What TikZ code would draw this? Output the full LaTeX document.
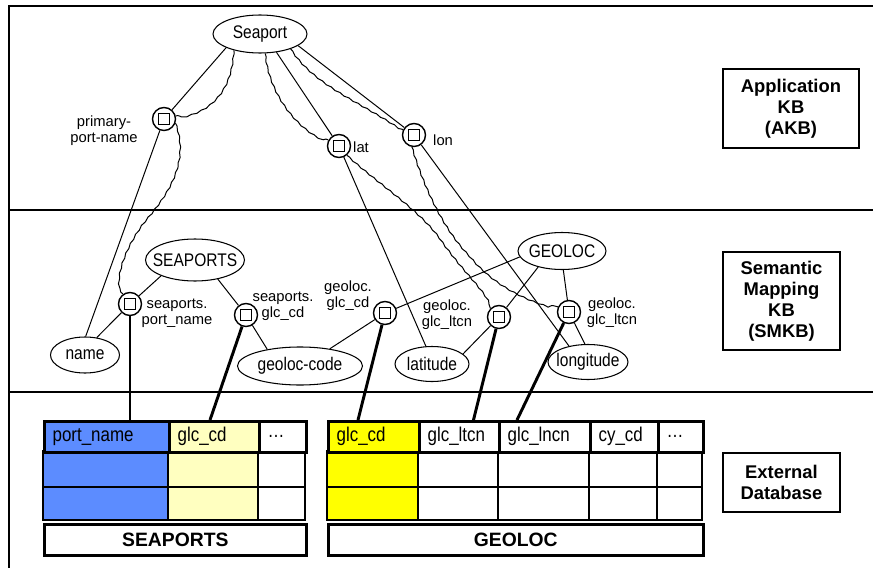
\documentclass[tikz,border=0pt]{standalone}
\usepackage{fontspec}
\setmainfont{Liberation Sans}
\newfontfamily\narrowfont[FakeStretch=0.85]{Liberation Sans}
\usetikzlibrary{shapes.geometric,decorations.pathmorphing}
\definecolor{portblue}{RGB}{92,140,255}
\definecolor{paleyel}{RGB}{255,255,192}
\definecolor{glcyel}{RGB}{255,255,0}

\begin{document}
\begin{tikzpicture}[x=0.3mm, y=-0.3mm,
	concept/.style={draw, ellipse, line width=0.9pt, inner xsep=-15pt, inner ysep=0pt, font=\narrowfont\fontsize{15.6}{16}\selectfont},
	slot/.style={draw, circle, line width=1.2pt, minimum size=6.9mm, inner sep=0pt,
		path picture={\draw[line width=1pt] ([shift={(-1.65mm,-1.65mm)}]path picture bounding box.center) rectangle ([shift={(1.65mm,1.65mm)}]path picture bounding box.center);}},
	lbl/.style={align=center, inner sep=0pt, font=\fontsize{12.6}{13.7}\selectfont},
	link/.style={line width=0.85pt},
	wavy/.style={link, decorate, decoration={snake, amplitude=0.45pt, segment length=9pt}},
	dbline/.style={line width=2.5pt},
	sect/.style={line width=1.2pt},
	hdr/.style={draw, line width=2.2pt, anchor=north west, minimum height=9.3mm, inner xsep=2.5mm, inner ysep=0pt, align=left, font=\narrowfont\fontsize{17}{18}\selectfont},
	cell/.style={draw, line width=0.9pt},
	tblname/.style={draw, line width=2.2pt, anchor=north west, minimum height=9.3mm, font=\bfseries\fontsize{16.5}{18}\selectfont},
	kbbox/.style={draw, line width=0.9pt, align=center, font=\bfseries\fontsize{15.7}{18}\selectfont}
	]
	\useasboundingbox (0,0) rectangle (873,568);

	% layers
	\draw[sect] (9,568) -- (9,6) -- (873,6);
	\draw[sect] (9,210) -- (873,210);
	\draw[sect] (9,392) -- (873,392);

	% application KB
	\node[concept, minimum width=28.2mm, minimum height=11.4mm] (seaport) at (260,34) {Seaport};
	\node[slot] (ppn) at (164,119) {};
	\node[slot] (lat) at (339,146) {};
	\node[slot] (lon) at (414,135) {};
	\node[lbl] (ppn-l) at (104,131) {primary-\\port-name};
	\node[lbl, anchor=west] (lat-l) at (353,147) {lat};
	\node[lbl, anchor=west] (lon-l) at (433,140) {lon};

	% semantic mapping KB
	\node[concept, minimum width=29.7mm, minimum height=12.6mm] (seaports) at (195,260) {SEAPORTS};
	\node[concept, minimum width=26.4mm, minimum height=11.1mm] (geoloc) at (562,251) {GEOLOC};
	\node[concept, minimum width=20.7mm, minimum height=10.8mm] (name) at (85,355) {name};
	\node[concept, minimum width=37.5mm, minimum height=11.4mm] (gcode) at (300,366) {geoloc-code};
	\node[concept, minimum width=22.2mm, minimum height=10.5mm] (latitude) at (432,364) {latitude};
	\node[concept, minimum width=24mm, minimum height=10.5mm] (longitude) at (588,362) {longitude};
	\node[slot] (spn) at (130,304) {};
	\node[slot] (sgc) at (246,315) {};
	\node[slot] (ggc) at (385,313) {};
	\node[slot] (glt) at (499,317) {};
	\node[slot] (gln) at (569,312) {};
	\node[lbl] (spn-l) at (177,313) {seaports.\\port\_name};
	\node[lbl] (sgc-l) at (283,306) {seaports.\\glc\_cd};
	\node[lbl] (ggc-l) at (348,296) {geoloc.\\glc\_cd};
	\node[lbl] (glt-l) at (447,315) {geoloc.\\glc\_ltcn};
	\node[lbl] (gln-l) at (612,313) {geoloc.\\glc\_ltcn};

	\draw[link] (seaport.202) -- (ppn);
	\draw[wavy] (seaport.212) .. controls (231,95) and (205,112) .. (ppn.15);
	\draw[link] (seaport.312) -- (lat);
	\draw[wavy] (seaport.285) .. controls (270,95) and (300,130) .. (lat.150);
	\draw[link] (seaport.343) -- (lon);
	\draw[wavy] (seaport.334) .. controls (315,85) and (360,100) .. (lon.155);

	\draw[link] (ppn) -- (name.88);
	\draw[wavy] (ppn.-20) .. controls (190,165) and (160,200) .. (145,218) .. controls (120,250) and (112,285) .. (spn.125);
	\draw[link] (lat) -- (latitude.109);
	\draw[wavy] (lat.-50) .. controls (380,185) and (420,210) .. (440,240) .. controls (465,275) and (485,290) .. (glt.135);
	\draw[link] (lon) -- (longitude.140);
	\draw[wavy] (lon.-100) .. controls (425,190) and (445,230) .. (470,255) .. controls (495,285) and (530,300) .. (gln.155);

	\draw[link] (seaports.205) -- (spn);
	\draw[link] (spn) -- (name.56);
	\draw[link] (seaports.320) -- (sgc);
	\draw[link] (sgc) -- (gcode.153);
	\draw[link] (geoloc.188) -- (ggc);
	\draw[link] (ggc) -- (gcode.30);
	\draw[link] (geoloc.214) -- (glt);
	\draw[link] (glt) -- (latitude.18);
	\draw[link] (geoloc.274) -- (gln);
	\draw[link] (gln) -- (longitude.100);

	% external database
	\foreach \xa/\xb/\c in {43/168/portblue, 168/258/paleyel, 258/305/white, 327/418/glcyel, 418/498/white, 498/589/white, 589/657/white, 657/702/white}
		\draw[cell, fill=\c] (\xa,451) rectangle (\xb,487) (\xa,487) rectangle (\xb,520);
	\draw[line width=2.2pt] (43,451) -- (43,520);
	\draw[line width=2.2pt] (327,451) -- (327,520);

	\node[hdr, fill=portblue, text width=32.5mm] (s-pn) at (43,420) {port\_name};
	\node[hdr, fill=paleyel, text width=22mm] (s-gc) at (168,420) {glc\_cd};
	\node[hdr, fill=white, text width=9.1mm] (s-more) at (258,420) {\ldots};
	\node[hdr, fill=glcyel, text width=22.3mm] (g-gc) at (327,420) {glc\_cd};
	\node[hdr, fill=white, text width=19mm] (g-lt) at (418,420) {glc\_ltcn};
	\node[hdr, fill=white, text width=22.3mm] (g-ln) at (498,420) {glc\_lncn};
	\node[hdr, fill=white, text width=15.4mm] (g-cy) at (589,420) {cy\_cd};
	\node[hdr, fill=white, text width=8.5mm] (g-more) at (657,420) {\ldots};
	\node[tblname, minimum width=78.6mm] (s-tbl) at (43,523) {SEAPORTS};
	\node[tblname, minimum width=112.5mm] (g-tbl) at (327,523) {GEOLOC};

	\coordinate (s-gc-top) at (210,420);
	\coordinate (g-gc-top) at (358,420);
	\coordinate (g-lt-top) at (473,422);
	\coordinate (g-ln-top) at (517,420);
	\draw[dbline] (spn) -- (spn |- s-pn.north);
	\draw[dbline] (sgc) -- (s-gc-top);
	\draw[dbline] (ggc) -- (g-gc-top);
	\draw[dbline] (glt) -- (g-lt-top);
	\draw[dbline] (gln) -- (g-ln-top);

	% layer names
	\node[kbbox, minimum width=40.8mm, minimum height=23.7mm] (akb) at (791,108.5) {Application\\KB\\(AKB)};
	\node[kbbox, minimum width=35.1mm, minimum height=29.4mm] (smkb) at (781.5,301) {Semantic\\Mapping\\KB\\(SMKB)};
	\node[kbbox, minimum width=35.1mm, minimum height=17.7mm] (extdb) at (781.5,482.5) {External\\Database};
\end{tikzpicture}
\end{document}
